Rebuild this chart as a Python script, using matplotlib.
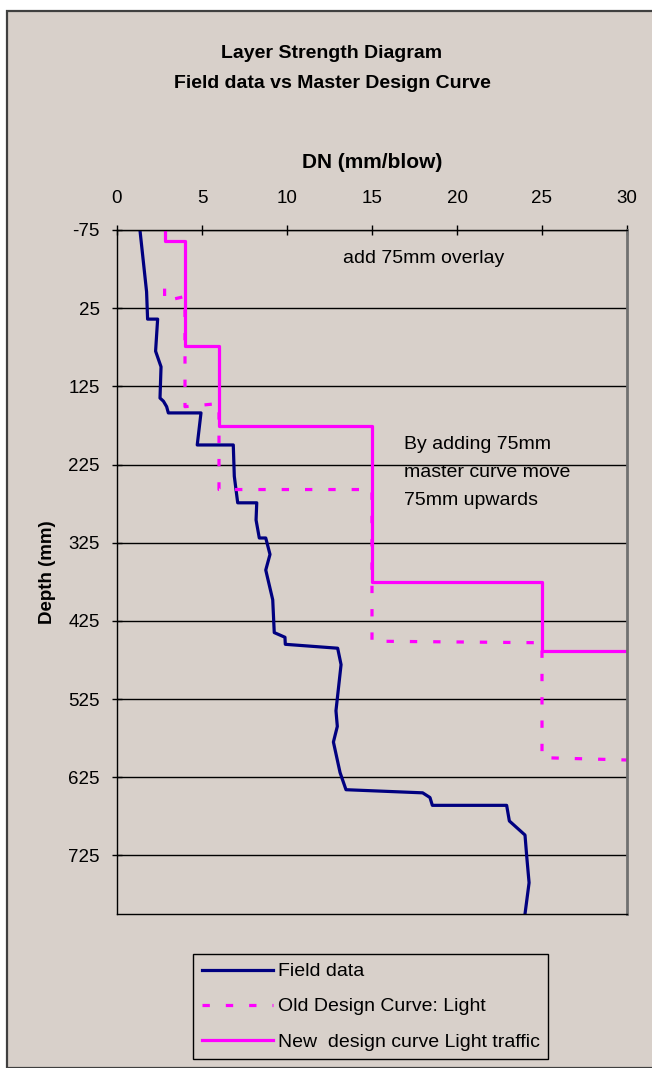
import numpy as np
import matplotlib.pyplot as plt
from matplotlib.patches import Rectangle

plt.rcParams['font.family'] = ['Liberation Sans', 'DejaVu Sans']
plt.rcParams['axes.unicode_minus'] = False

# -----------------------------
# Data (DN in mm/blow, depth in mm)
# -----------------------------
field_dn = [1.35, 1.74, 1.8, 2.39, 2.27, 2.59, 2.53, 2.73, 2.92, 3.02, 4.94, 4.72,
            6.84, 6.9, 7.1, 8.22, 8.18, 8.37, 8.75, 9.0, 8.75, 9.16, 9.25, 9.88,
            9.9, 12.98, 13.18, 12.88, 12.96, 12.73, 13.12, 13.47, 17.98, 18.41,
            18.55, 22.92, 23.08, 24.0, 24.1, 24.24, 24.0]
field_depth = [-75, 4, 39, 39, 80, 100, 140, 144, 151, 159, 159, 200,
               200, 240, 274, 274, 296, 319, 319, 340, 360, 398, 440, 446,
               455, 460, 481, 540, 560, 580, 619, 641, 645, 651,
               661, 661, 681, 699, 726, 760, 800]

old_dn = [2.8, 2.8, 4, 4, 6, 6, 15, 15, 25, 25, 30]
old_depth = [0, 16, 10, 151, 147, 257, 257, 451, 453, 600, 603]

new_dn = [2.8, 2.8, 4, 4, 6, 6, 15, 15, 25, 25, 30]
new_depth = [-75, -61, -61, 74, 74, 176, 176, 375, 375, 464, 464]

bg = '#d8d0ca'

fig = plt.figure(figsize=(6.52, 10.68), dpi=100, facecolor='white')

# chart area
fig.patches.append(Rectangle((6.5 / 652, 0), 1.0, 1 - 11 / 1068, transform=fig.transFigure,
                             facecolor=bg, edgecolor='#404040', linewidth=1.6, zorder=-10))

ax = fig.add_axes([117 / 652, 1 - 914 / 1068, 510 / 652, 684 / 1068])
ax.set_facecolor(bg)

ax.plot(field_dn, field_depth, color='#000080', linewidth=2.3, label='Field data')
ax.plot(old_dn, old_depth, color='#ff00ff', linewidth=2.3, dashes=(2.3, 5),
        label='Old Design Curve: Light')
ax.plot(new_dn, new_depth, color='#ff00ff', linewidth=2.3,
        label='New  design curve Light traffic')

ax.set_xlim(0, 30)
ax.set_ylim(800, -75)
ax.set_xticks(np.arange(0, 31, 5))
ax.set_yticks(np.arange(-75, 800, 100))
ax.xaxis.tick_top()
ax.xaxis.set_label_position('top')
ax.tick_params(axis='both', labelsize=13.5, direction='inout', length=7, width=1)
ax.tick_params(axis='x', pad=13)
ax.tick_params(axis='y', pad=9)
ax.set_xlabel('DN (mm/blow)', fontsize=15, fontweight='bold', labelpad=16)
ax.set_ylabel('Depth (mm)', fontsize=13.5, fontweight='bold', labelpad=9)

ax.grid(axis='y', color='black', linewidth=1)
ax.set_axisbelow(True)
for s in ['left', 'top', 'bottom']:
    ax.spines[s].set_color('black')
    ax.spines[s].set_linewidth(1)
ax.spines['right'].set_color('#707070')
ax.spines['right'].set_linewidth(2)

ax.text(13.3, -39, 'add 75mm overlay', fontsize=14, va='center', ha='left')
ax.text(16.88, 235, 'By adding 75mm\nmaster curve move\n75mm upwards', fontsize=14,
        va='center', ha='left', linespacing=1.85)

fig.text(332 / 652, 1 - 58.5 / 1068, 'Layer Strength Diagram', fontsize=14, fontweight='bold',
         ha='center', va='baseline')
fig.text(332 / 652, 1 - 88.5 / 1068, 'Field data vs Master Design Curve', fontsize=14,
         fontweight='bold', ha='center', va='baseline')

leg = fig.legend(loc='upper left', bbox_to_anchor=(193 / 652, 1 - 954 / 1068),
                 fontsize=14, frameon=True, fancybox=False, facecolor=bg,
                 edgecolor='black', framealpha=1, handlelength=3.65, handletextpad=0.25,
                 labelspacing=0.9, borderpad=0.45, borderaxespad=0)
leg.get_frame().set_linewidth(1)

fig.savefig('out.png', dpi=100, facecolor='white')
